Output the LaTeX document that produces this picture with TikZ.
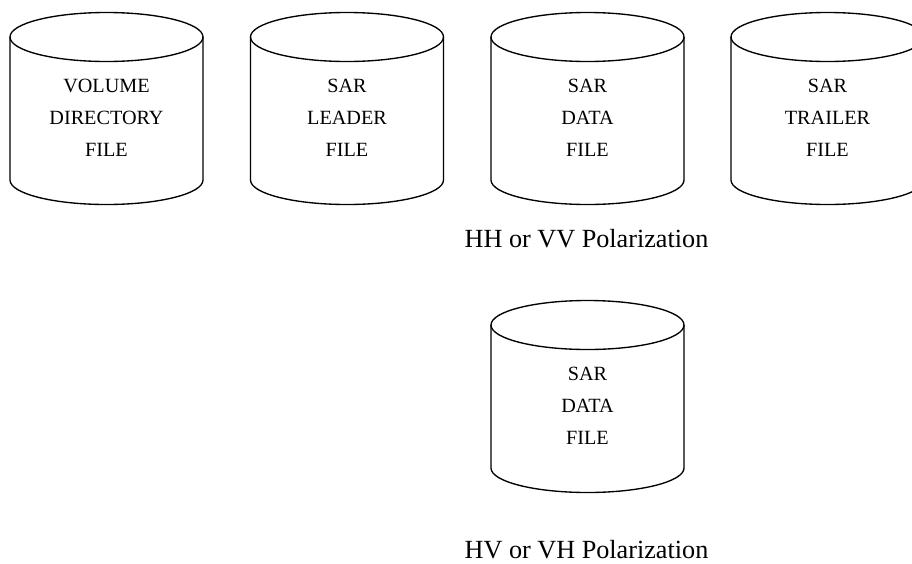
\documentclass[tikz,border=0pt]{standalone}
\usepackage{fontspec}
\setmainfont{Liberation Serif}
\newcommand{\drumshape}[2]{%
  \draw[drumline] (#1,#2) ellipse[x radius=96.5, y radius=24.5];
  \draw[drumline] (#1-96.5,#2) -- (#1-96.5,#2+143)
    arc[start angle=180, end angle=0, x radius=96.5, y radius=24.5] -- (#1+96.5,#2);
}
\begin{document}
\begin{tikzpicture}[x=1pt,y=-1pt,
  drumline/.style={line width=1.35pt, black},
  drumtext/.style={font=\fontsize{20.2}{32}\selectfont, align=center, inner sep=0pt},
  pollabel/.style={font=\fontsize{26.2}{30}\selectfont, inner sep=0pt, anchor=base}]
\useasboundingbox (0,0) rectangle (912,563);
\clip (0,0) rectangle (912,563);
\drumshape{106.5}{37}
\drumshape{347}{37}
\drumshape{587.5}{37}
\drumshape{827.5}{37}
\drumshape{587.5}{325}
\node[drumtext] (vol) at (106.5,118) {VOLUME\\DIRECTORY\\FILE};
\node[drumtext] (lead) at (347,118) {SAR\\LEADER\\FILE};
\node[drumtext] (data1) at (587.5,118) {SAR\\DATA\\FILE};
\node[drumtext] (trail) at (827.5,118) {SAR\\TRAILER\\FILE};
\node[drumtext] (data2) at (587.5,406) {SAR\\DATA\\FILE};
\node[pollabel] (hh) at (586.5,247) {HH or VV Polarization};
\node[pollabel] (hv) at (586.5,558) {HV or VH Polarization};
\end{tikzpicture}
\end{document}
